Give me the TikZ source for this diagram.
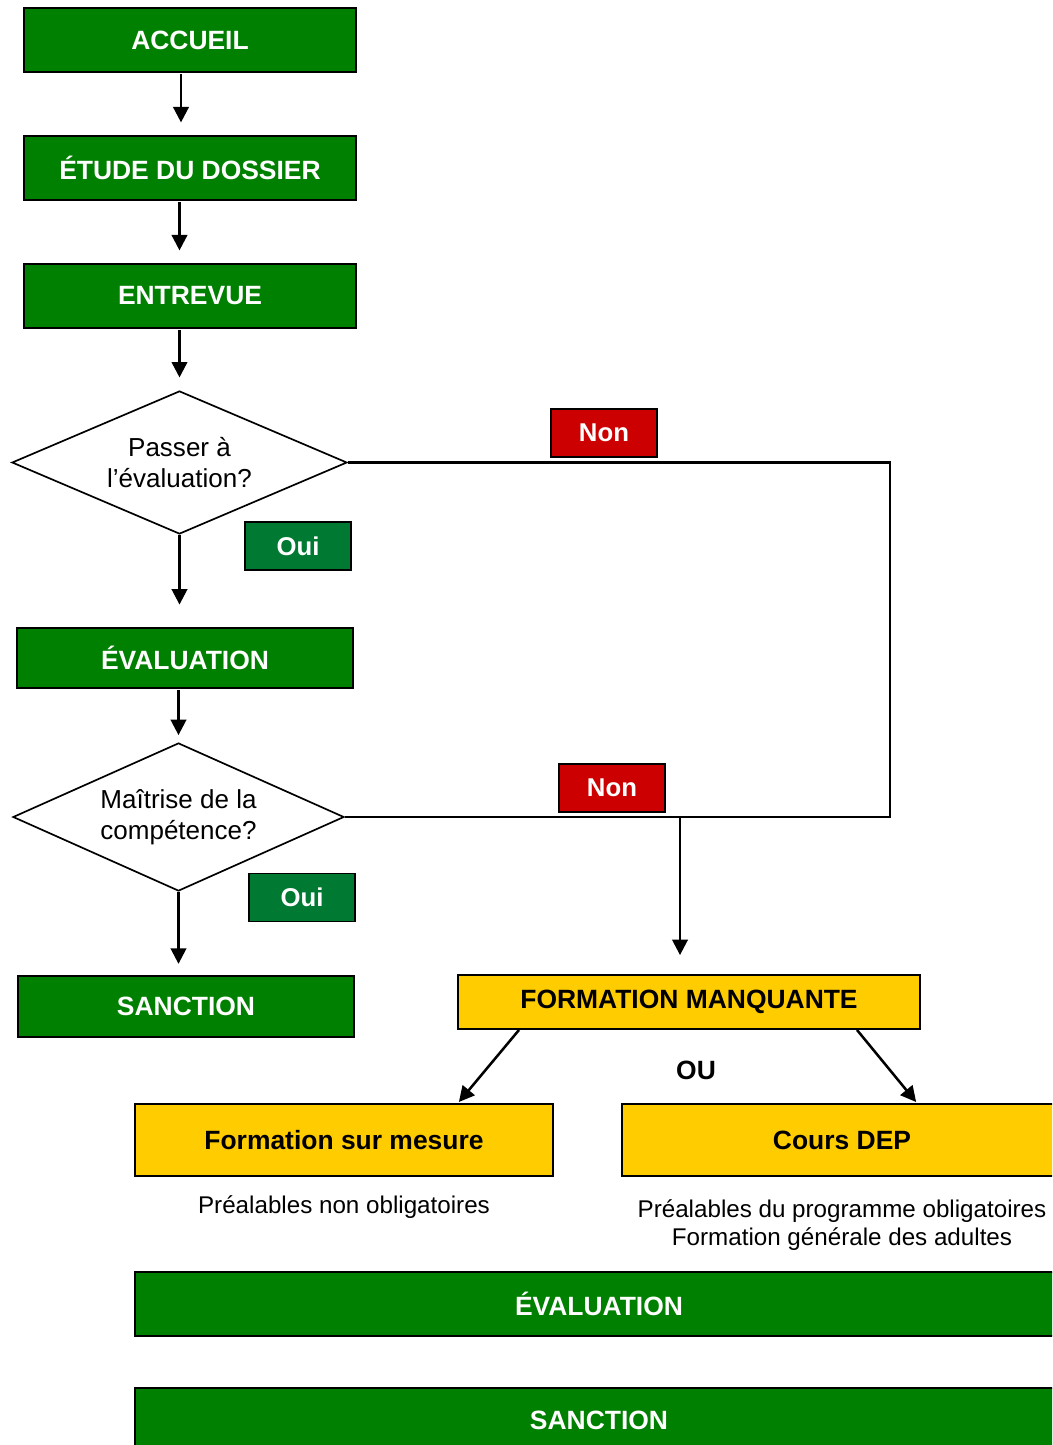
\documentclass[tikz,border=0pt]{standalone}
\usepackage{fontspec}
\setmainfont{Liberation Sans}
\usepackage{tikz}
\usetikzlibrary{arrows.meta,calc,shapes.geometric}
\definecolor{boxgreen}{HTML}{008000}
\definecolor{ouigreen}{HTML}{007A33}
\definecolor{nonred}{HTML}{CC0000}
\definecolor{gold}{HTML}{FFCC00}
\tikzset{
  stage/.style={rectangle, draw=black, line width=1.3pt, fill=boxgreen, text=white,
    font=\fontsize{18.8}{22}\selectfont\bfseries, minimum width=8.3cm, minimum height=1.6cm},
  wide/.style={stage, minimum width=23.2cm},
  train/.style={rectangle, draw=black, line width=1.3pt, fill=gold, text=black,
    font=\fontsize{18.8}{22}\selectfont\bfseries, minimum height=1.8cm},
  ask/.style={diamond, draw=black, line width=1.2pt, fill=white, aspect=2.34, inner sep=0pt,
    minimum width=8.375cm, minimum height=3.575cm, align=center,
    font=\fontsize{18.5}{22}\selectfont},
  tagN/.style={rectangle, draw=black, line width=1.3pt, fill=nonred, text=white,
    font=\fontsize{18.3}{22}\selectfont\bfseries, minimum width=2.65cm, minimum height=1.2cm},
  tagO/.style={tagN, fill=ouigreen},
  note/.style={align=center, font=\fontsize{17.2}{20}\selectfont},
  link/.style={line width=1.8pt, draw=black},
  arr/.style={link, -{Triangle[length=11pt, width=11pt]}}
}

\begin{document}
\begin{tikzpicture}[x=0.025cm, y=-0.025cm]
  \useasboundingbox (0,0) rectangle (1052,1445);
  \clip (0,0) rectangle (1052,1445);

  % left column
  \node[stage] (accueil) at (190,40) {ACCUEIL};
  \node[stage] (etude) at (190,168) {ÉTUDE DU DOSSIER};
  \node[stage] (entrevue) at (190,296) {ENTREVUE};
  \node[ask] (passer) at (179.5,462.5) {Passer à\\l’évaluation?};
  \node[stage, minimum width=8.4cm, minimum height=1.5cm] (evaluation) at (185,658) {ÉVALUATION};
  \node[ask, minimum width=8.275cm, minimum height=3.7cm] (maitrise) at (178.5,817) {Maîtrise de la\\compétence?};
  \node[stage, minimum width=8.4cm, minimum height=1.525cm] (sanction) at (186,1006.5) {SANCTION};

  % answers
  \node[tagN] (non1) at (604,433) {Non};
  \node[tagO] (oui1) at (298,546) {Oui};
  \node[tagN] (non2) at (612,788) {Non};
  \node[tagO] (oui2) at (302,897.5) {Oui};

  % missing training
  \node[train, minimum width=11.55cm, minimum height=1.35cm] (manque) at (689,1002) {FORMATION MANQUANTE};
  \node[font=\fontsize{18.8}{22}\selectfont\bfseries] (ou) at (696,1070) {OU};
  \node[train, minimum width=10.45cm] (mesure) at (344,1140) {Formation sur mesure};
  \node[train, minimum width=11cm] (dep) at (842,1140) {Cours DEP};
  \node[note] (pre1) at (344,1207) {Préalables non obligatoires};
  \node[note] (pre2) at (842,1225) {Préalables du programme obligatoires\\Formation générale des adultes};
  \node[wide] (evalb) at (599,1304) {ÉVALUATION};
  \node[wide] (sanctb) at (599,1420) {SANCTION};

  % arrows down the left
  \draw[arr, shorten <=1pt, shorten >=9pt] ([xshift=-9*0.025cm]accueil.south) -- ([xshift=-9*0.025cm]etude.north);
  \draw[arr, shorten <=1pt, shorten >=9pt] (etude.south -| passer) -- (entrevue.north -| passer);
  \draw[arr, shorten <=1pt, shorten >=9pt] (entrevue.south -| passer) -- (passer.north);
  \draw[arr, shorten >=16pt] (passer.south) -- (evaluation.north -| passer);
  \draw[arr, shorten <=1pt, shorten >=5pt] (evaluation.south -| maitrise) -- (maitrise.north);
  \draw[arr, shorten >=8pt] (maitrise.south) -- (sanction.north -| maitrise);

  % the two Non branches
  \coordinate (cornerA) at (890,462.5);
  \coordinate (cornerB) at (890,817);
  \coordinate (drop) at (680,817);
  \draw[link, line width=1.5pt] (passer.east) -- (cornerA) -- (cornerB) -- (maitrise.east);
  \draw[arr] (drop) -- ($(drop |- manque.north)+(0,-19)$);

  % split
  \draw[arr, shorten >=1pt] ($(manque.south west)+(62,0)$) -- ($(mesure.north east)+(-96,0)$);
  \draw[arr, shorten >=1pt] ($(manque.south east)+(-64,0)$) -- ($(dep.north west)+(296,0)$);
\end{tikzpicture}
\end{document}
